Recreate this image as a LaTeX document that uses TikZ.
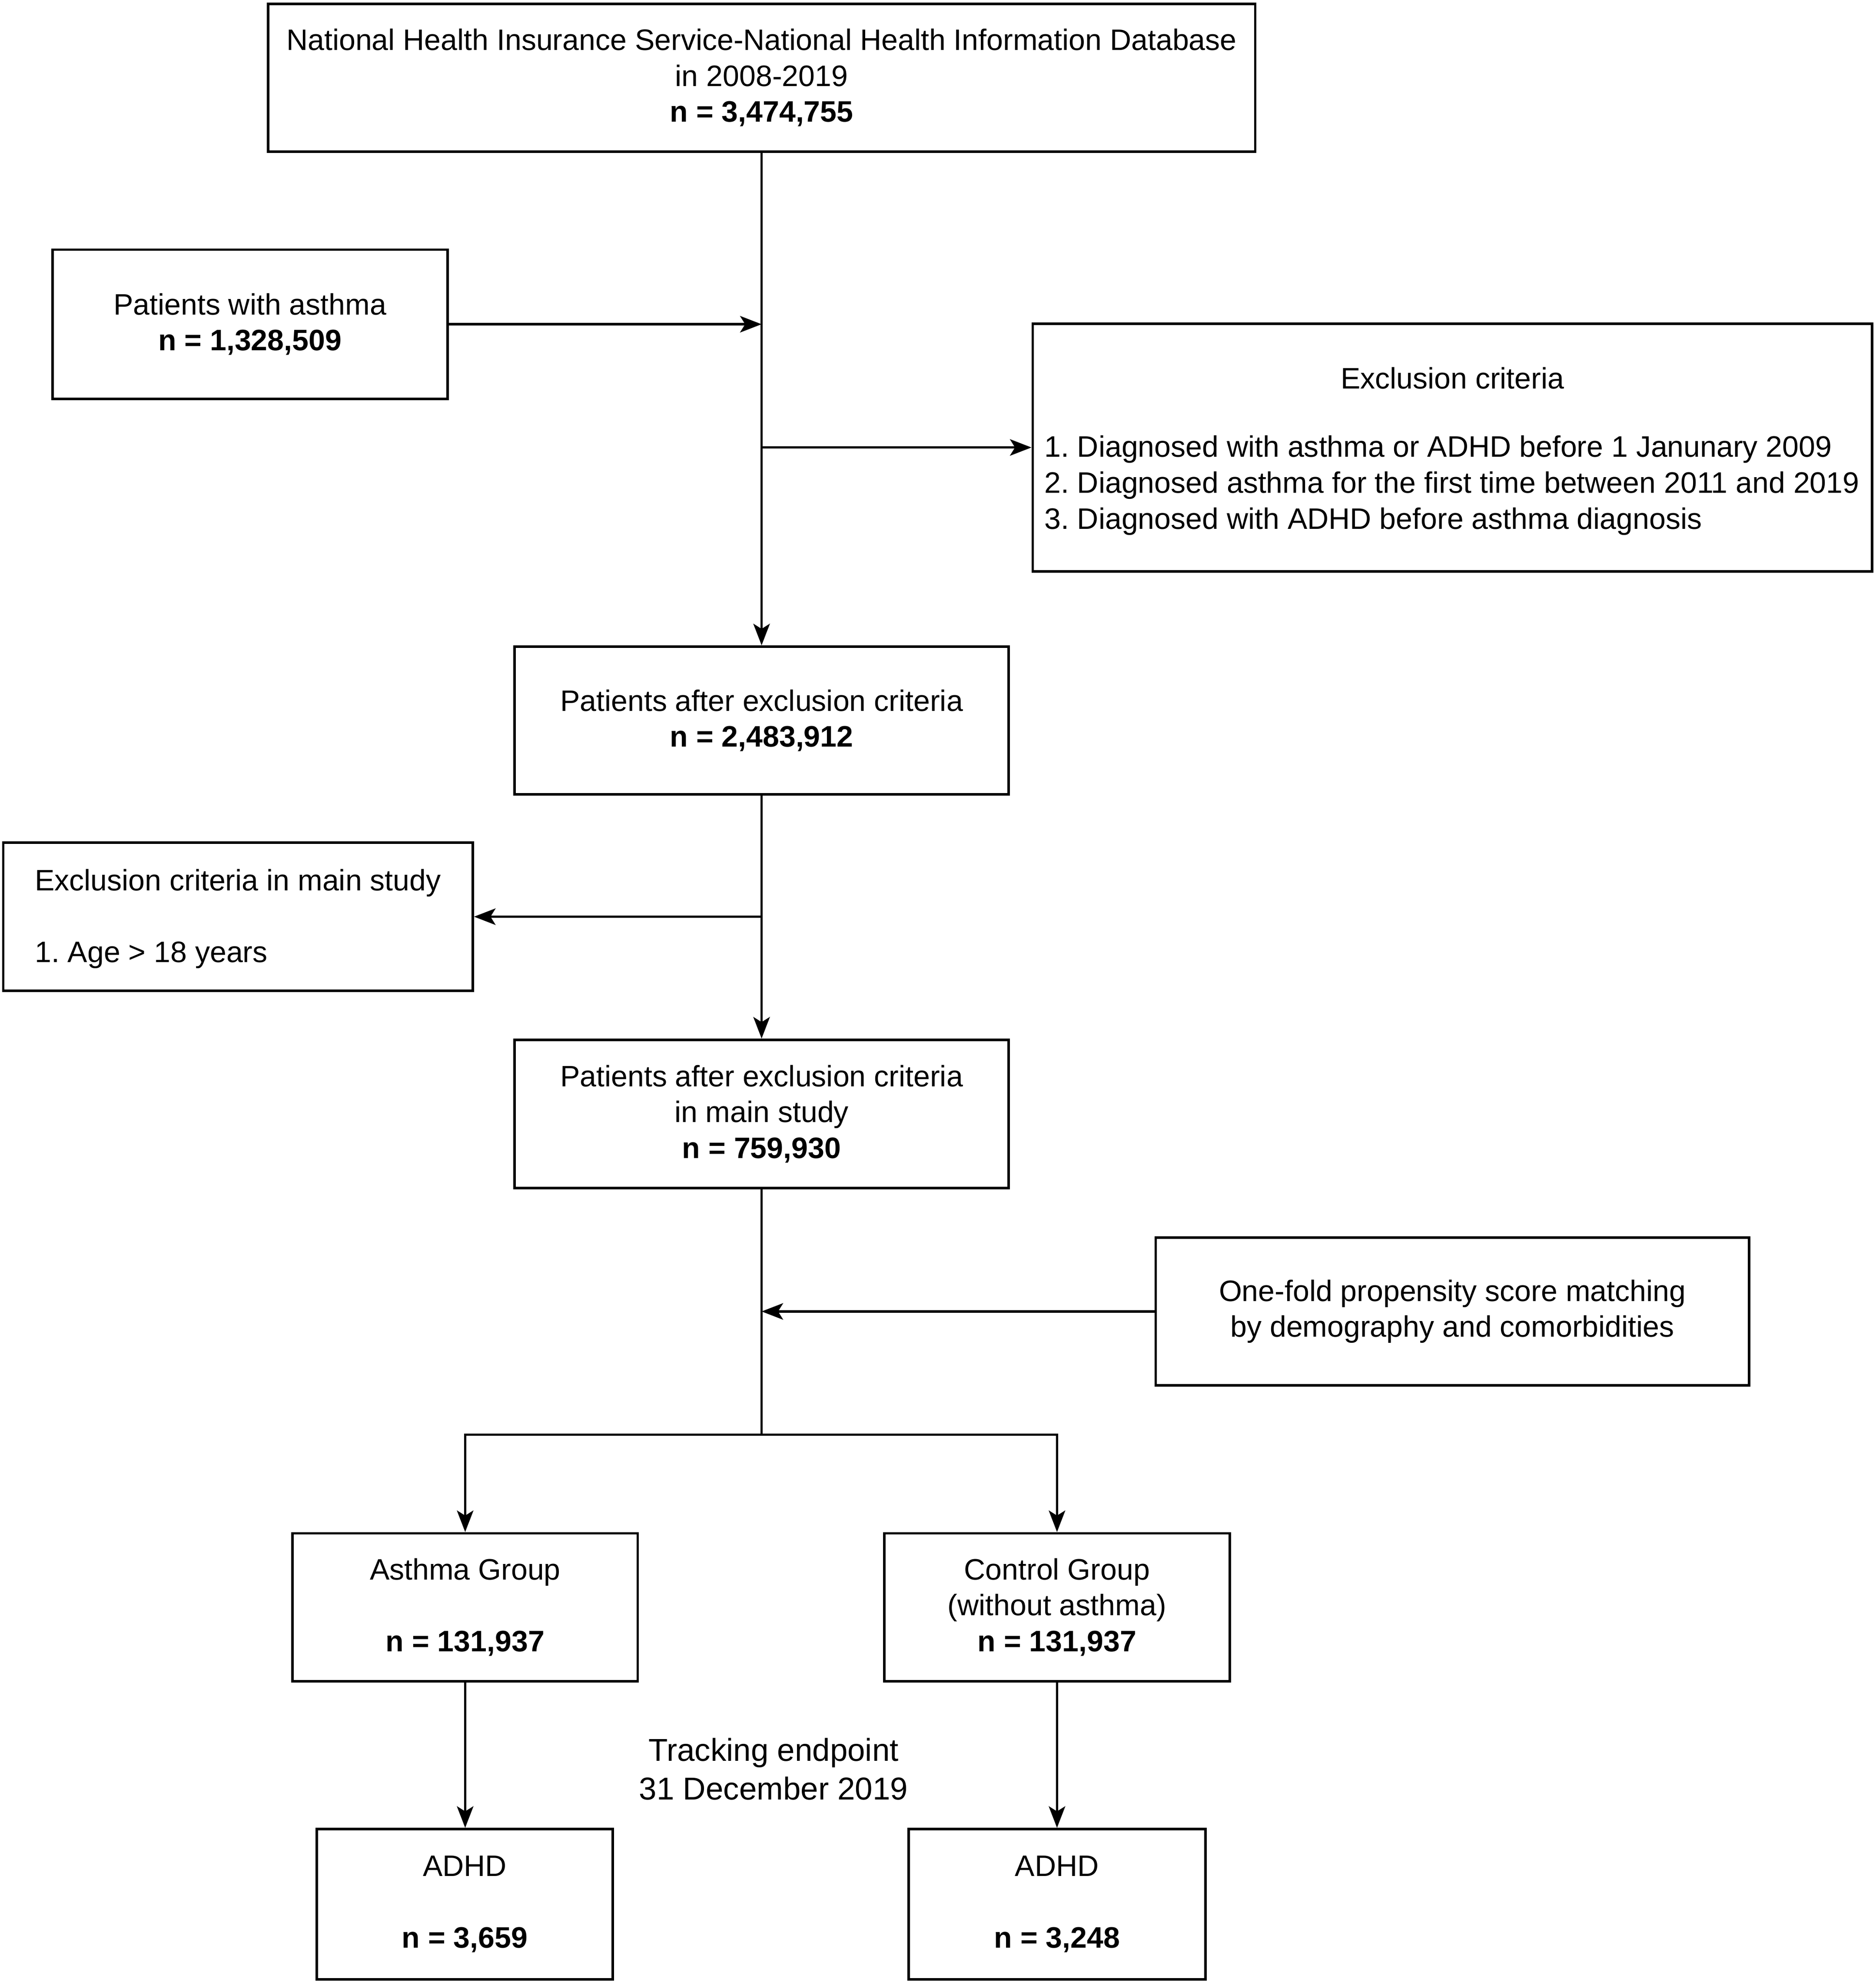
\documentclass[tikz,border=0pt]{standalone}
\usepackage{fontspec}
\setmainfont{Liberation Sans}
\usetikzlibrary{arrows.meta}
\frenchspacing
\newcommand\boxfont{\fontsize{23.4}{28.4}\selectfont}
\newcommand\trackfont{\fontsize{25}{30.5}\selectfont}
\begin{document}
\begin{tikzpicture}[x=1pt,y=-1pt,
  box/.style={draw, line width=2pt, rectangle, inner sep=0pt, align=center, font=\boxfont},
  conn/.style={line width=1.9pt},
  arr/.style={conn, -{Stealth[length=17pt,width=13pt,inset=4pt]}},
  txt/.style={inner sep=0pt, font=\boxfont}]
\useasboundingbox (0,0) rectangle (1484,1568);

% boxes
\node[box, minimum width=781pt, minimum height=117pt] (top) at (602.5,61.5)
  {National Health Insurance Service-National Health Information Database\\in 2008-2019\\\textbf{n = 3,474,755}};
\node[box, minimum width=312.5pt, minimum height=118pt] (asthma) at (197.75,256.5)
  {Patients with asthma\\\textbf{n = 1,328,509}};
\node[box, minimum width=664pt, minimum height=196pt] (excl) at (1149,354) {};
\node[txt, align=center] (exclt) at (1149,299) {Exclusion criteria};
\node[txt, align=left, anchor=west] (excll) at (826,384)
  {1. Diagnosed with asthma or ADHD before 1 Janunary 2009\\2. Diagnosed asthma for the first time between 2011 and 2019\\3. Diagnosed with ADHD before asthma diagnosis};
\node[box, minimum width=391pt, minimum height=117pt] (after) at (602.5,570)
  {Patients after exclusion criteria\\\textbf{n = 2,483,912}};
\node[box, minimum width=371.4pt, minimum height=117.2pt] (exmain) at (188.3,725.2) {};
\node[txt, align=left, anchor=west] (exmaint) at (27.4,727)
  {Exclusion criteria in main study\\~\\1. Age > 18 years};
\node[box, minimum width=391pt, minimum height=117.4pt] (mainb) at (602.5,881.3)
  {Patients after exclusion criteria\\in main study\\\textbf{n = 759,930}};
\node[box, minimum width=469.5pt, minimum height=117pt] (psm) at (1149,1037.5)
  {One-fold propensity score matching\\by demography and comorbidities};
\node[box, minimum width=273pt, minimum height=117pt] (ag) at (368,1271.5)
  {Asthma Group\\~\\\textbf{n = 131,937}};
\node[box, minimum width=273.2pt, minimum height=117pt] (cg) at (836.2,1271.5)
  {Control Group\\(without asthma)\\\textbf{n = 131,937}};
\node[box, minimum width=234pt, minimum height=119pt] (ad1) at (367.7,1506.5)
  {ADHD\\~\\\textbf{n = 3,659}};
\node[box, minimum width=234.8pt, minimum height=119pt] (ad2) at (836.2,1506.5)
  {ADHD\\~\\\textbf{n = 3,248}};
\node[inner sep=0pt, align=center, font=\trackfont] (track) at (612,1399.5)
  {Tracking endpoint\\31 December 2019};

% junctions
\coordinate (j1) at (602.5,256.5);
\coordinate (j2) at (602.5,354);
\coordinate (j3) at (602.5,725.2);
\coordinate (j4) at (602.5,1037.5);
\coordinate (j5) at (602.5,1135);

% connectors
\draw[arr] (top.south) -- (after.north);
\draw[arr] (asthma.east) -- (j1);
\draw[arr] (j2) -- (excl.west);
\draw[arr] (after.south) -- (mainb.north);
\draw[arr] (j3) -- (exmain.east);
\draw[conn] (mainb.south) -- (j5);
\draw[arr] (psm.west) -- (j4);
\draw[arr] (j5) -| (ag.north);
\draw[arr] (j5) -| (cg.north);
\draw[arr] (ag.south) -- (ag.south |- ad1.north);
\draw[arr] (cg.south) -- (cg.south |- ad2.north);
\end{tikzpicture}
\end{document}
